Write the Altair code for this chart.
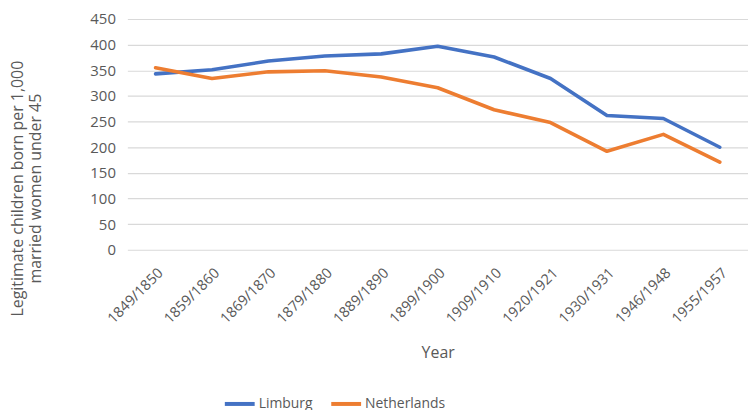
import altair as alt
import pandas as pd

years = ["1849/1850", "1859/1860", "1869/1870", "1879/1880", "1889/1890", "1899/1900",
         "1909/1910", "1920/1921", "1930/1931", "1946/1948", "1955/1957"]
limburg = [343, 351, 368, 378, 382, 397, 376, 334, 262, 256, 200]
netherlands = [355, 334, 347, 349, 337, 316, 273, 248, 192, 225, 171]
series = ["Limburg", "Netherlands"]
colors = ["#4472C4", "#ED7D31"]

rows = []
for i, y in enumerate(years):
    rows.append({"Year": y, "Series": "Limburg", "Value": limburg[i], "order": i})
    rows.append({"Year": y, "Series": "Netherlands", "Value": netherlands[i], "order": i})
df = pd.DataFrame(rows)

FONT = "Open Sans"
GRAY = "#595959"

chart = alt.Chart(df).mark_line(strokeWidth=3.6, strokeCap="round", strokeJoin="round").encode(
    x=alt.X("Year:N", sort=years,
            scale=alt.Scale(paddingOuter=0.5, paddingInner=0),
            axis=alt.Axis(title="Year", labelAngle=-45, labelFontSize=14.5, labelColor=GRAY,
                          labelFont=FONT, titleFont=FONT, titleFontSize=16, titleColor=GRAY,
                          titleFontWeight="normal", domain=False, ticks=False, grid=False,
                          labelPadding=16, titleY=103, titleBaseline="middle")),
    y=alt.Y("Value:Q", scale=alt.Scale(domain=[0, 450]),
            axis=alt.Axis(title=["Legitimate children born per 1,000", "married women under 45"],
                          values=list(range(0, 451, 50)), labelFontSize=15, labelColor=GRAY,
                          labelFont=FONT, titleFont=FONT, titleFontSize=16, titleColor=GRAY,
                          titleFontWeight="normal", domain=False, ticks=False,
                          gridColor="#D9D9D9", gridWidth=1.2, labelPadding=12,
                          titleX=-110, titleY=170, titleAngle=-90, titleBaseline="middle",
                          titleLineHeight=18)),
    color=alt.Color("Series:N", scale=alt.Scale(domain=series, range=colors),
                    legend=alt.Legend(title=None, orient="none", direction="horizontal",
                                      legendX=96, legendY=370, symbolType="stroke",
                                      symbolStrokeWidth=4, symbolSize=900,
                                      labelFont=FONT, labelFontSize=14, labelColor=GRAY,
                                      labelOffset=2, columnPadding=10)),
    order="order:Q",
).properties(
    width=624, height=232,
    autosize=alt.AutoSizeParams(type="none"),
    padding={"left": 120, "top": 10, "right": 0, "bottom": 160},
).configure_view(stroke=None)

chart.save("out.html", embed_options={"renderer": "svg", "actions": False})
